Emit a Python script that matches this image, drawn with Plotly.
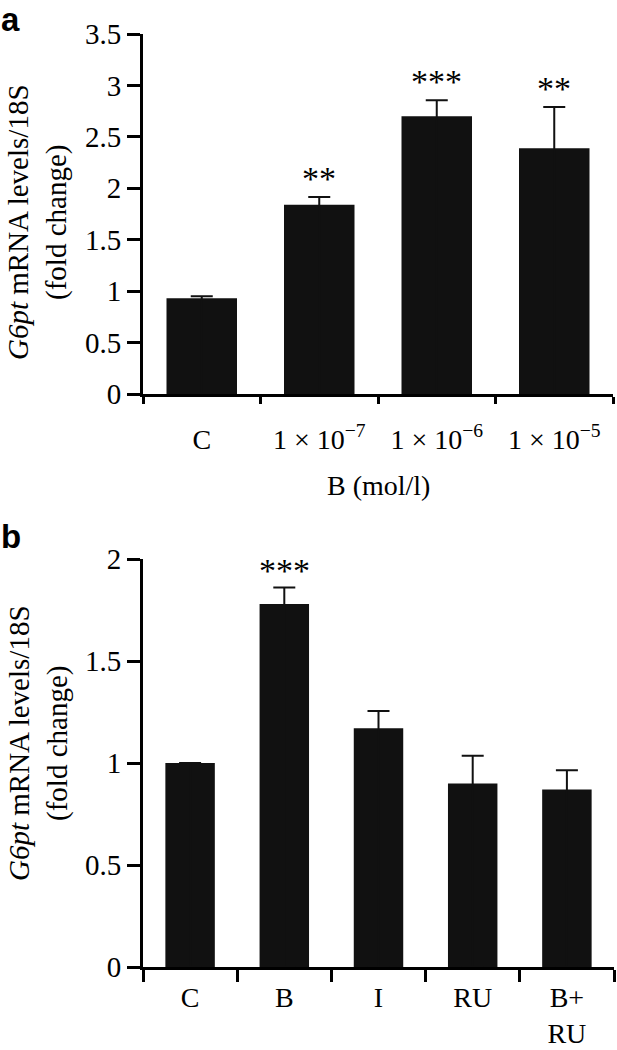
import plotly.graph_objects as go

W, H = 617, 1050

# Panel a data
cats_a = ["C", "1 × 10<sup>−7</sup>", "1 × 10<sup>−6</sup>", "1 × 10<sup>−5</sup>"]
vals_a = [0.93, 1.84, 2.70, 2.39]
err_a = [0.02, 0.075, 0.155, 0.40]
stars_a = ["", "**", "***", "**"]
yticks_a = [0, 0.5, 1, 1.5, 2, 2.5, 3, 3.5]

# Panel b data
cats_b = ["C", "B", "I", "RU", "B+<br>RU"]
vals_b = [1.00, 1.78, 1.17, 0.90, 0.87]
err_b = [0.0, 0.08, 0.085, 0.135, 0.095]
stars_b = ["", "***", "", "", ""]
yticks_b = [0, 0.5, 1, 1.5, 2]

SERIF = "Liberation Serif"
SANS = "Liberation Sans"
BAR = "#111111"


def px_x(p):
    return p / W


def px_y(p):
    return 1 - p / H


fig = go.Figure()

fig.add_trace(go.Bar(
    x=cats_a, y=vals_a, width=0.6,
    marker=dict(color=BAR, line=dict(width=0)),
    error_y=dict(type="data", symmetric=False, array=err_a, arrayminus=vals_a,
                 color=BAR, thickness=2, width=11),
    xaxis="x", yaxis="y",
))
fig.add_trace(go.Bar(
    x=cats_b, y=vals_b, width=0.525,
    marker=dict(color=BAR, line=dict(width=0)),
    error_y=dict(type="data", symmetric=False, array=err_b, arrayminus=vals_b,
                 color=BAR, thickness=2, width=11),
    xaxis="x2", yaxis="y2",
))

axis_common = dict(
    showline=True, linewidth=3, linecolor="black",
    ticks="outside", tickwidth=3, tickcolor="black",
    showgrid=False, zeroline=False, automargin=False,
    fixedrange=True,
)
xfont = dict(family=SERIF, size=28, color="black")
yfont = dict(family=SERIF, size=29, color="black")

fig.update_layout(
    template="none",
    width=W, height=H,
    margin=dict(l=0, r=0, t=0, b=0, pad=0, autoexpand=False),
    paper_bgcolor="white", plot_bgcolor="white",
    showlegend=False,
    xaxis=dict(domain=[px_x(143), px_x(613)], anchor="y", range=[-0.5, 3.5],
               type="category", tickson="boundaries", ticklen=7,
               ticklabelstandoff=18, tickfont=xfont, **axis_common),
    yaxis=dict(domain=[px_y(394), px_y(34)], anchor="x", range=[0, 3.5],
               tickmode="array", tickvals=yticks_a, ticklen=13,
               tickfont=yfont, **axis_common),
    xaxis2=dict(domain=[px_x(143), px_x(614)], anchor="y2", range=[-0.5, 4.5],
                type="category", tickson="boundaries", ticklen=12,
                ticklabelstandoff=3, tickfont=xfont, **axis_common),
    yaxis2=dict(domain=[px_y(967), px_y(559)], anchor="x2", range=[0, 2],
                tickmode="array", tickvals=yticks_b, ticklen=13,
                tickfont=yfont, **axis_common),
)

ann = []
# panel letters
ann.append(dict(text="<b>a</b>", x=0, y=1, xref="paper", yref="paper",
                xanchor="left", yanchor="top", showarrow=False, borderpad=0,
                font=dict(family=SANS, size=33, color="black")))
ann.append(dict(text="<b>b</b>", x=0, y=px_y(517), xref="paper", yref="paper",
                xanchor="left", yanchor="top", showarrow=False, borderpad=0,
                font=dict(family=SANS, size=33, color="black")))
# y titles
ytitle = "<i>G6pt</i> mRNA levels/18S<br>(fold change)"
ann.append(dict(text=ytitle, x=px_x(38), y=px_y(222), xref="paper", yref="paper",
                xanchor="center", yanchor="middle", textangle=-90, showarrow=False,
                font=dict(family=SERIF, size=29, color="black")))
ann.append(dict(text=ytitle, x=px_x(38), y=px_y(743), xref="paper", yref="paper",
                xanchor="center", yanchor="middle", textangle=-90, showarrow=False,
                font=dict(family=SERIF, size=29, color="black")))
# x title panel a
ann.append(dict(text="B (mol/l)", x=px_x(378), y=px_y(503), xref="paper", yref="paper",
                xanchor="center", yanchor="bottom", showarrow=False,
                font=dict(family=SERIF, size=28, color="black")))
# significance stars
for c, v, e, s in zip(cats_a, vals_a, err_a, stars_a):
    if s:
        ann.append(dict(text=s, x=c, y=v + e, xref="x", yref="y", xanchor="center",
                        yanchor="bottom", yshift=-2, showarrow=False,
                        font=dict(family=SERIF, size=34, color="black")))
for c, v, e, s in zip(cats_b, vals_b, err_b, stars_b):
    if s:
        ann.append(dict(text=s, x=c, y=v + e, xref="x2", yref="y2", xanchor="center",
                        yanchor="bottom", yshift=-3, showarrow=False,
                        font=dict(family=SERIF, size=34, color="black")))

fig.update_layout(annotations=ann)

fig.write_html("out.html",
               config={"displayModeBar": False, "staticPlot": True},
               post_script="document.body.style.margin='0px';document.body.style.overflow='hidden';")
